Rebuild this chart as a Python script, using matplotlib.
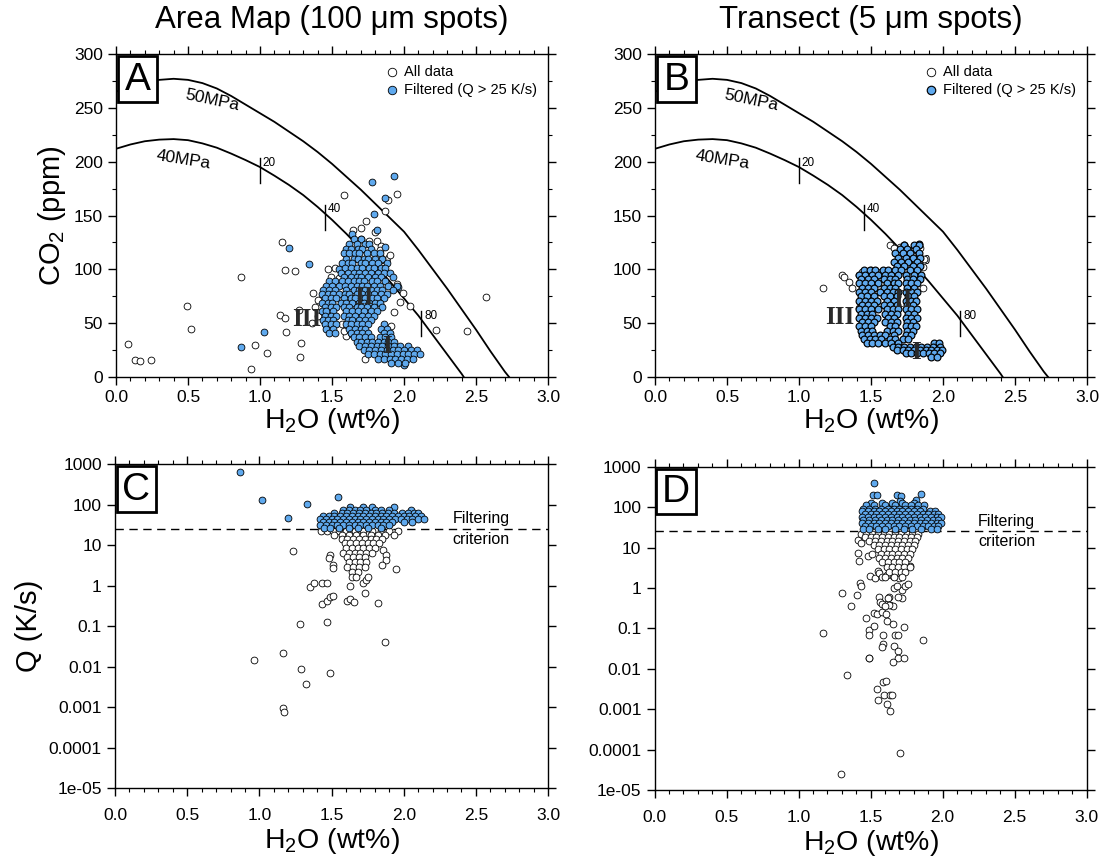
import matplotlib
matplotlib.use('Agg')
import matplotlib.pyplot as plt
from matplotlib.ticker import MultipleLocator, FormatStrFormatter, FixedLocator, NullLocator
from matplotlib.patches import Rectangle

plt.rcParams['font.family'] = ['Liberation Sans', 'DejaVu Sans']
plt.rcParams['mathtext.fontset'] = 'custom'
plt.rcParams['mathtext.rm'] = 'Liberation Sans'
plt.rcParams['mathtext.it'] = 'Liberation Sans:italic'

BLUE = '#5FA9EE'

# ---- saturation curves ----
CURVE_50_X = [0, 0.1, 0.2, 0.3, 0.4, 0.5, 0.6, 0.7, 0.8, 0.9, 1.0, 1.1, 1.2, 1.3, 1.4, 1.5,
              1.6, 1.7, 1.8, 1.9, 2.0, 2.1, 2.2, 2.3, 2.4, 2.5, 2.6, 2.7, 2.73]
CURVE_50_Y = [265, 270, 274, 276, 277, 276, 273, 268, 261, 253, 245, 237, 228, 219, 209, 198,
              186, 174, 161, 148, 135, 118, 100, 82, 63, 44, 24, 5, 0]
CURVE_40_X = [0, 0.1, 0.2, 0.3, 0.4, 0.5, 0.6, 0.7, 0.8, 0.9, 1.0, 1.1, 1.2, 1.3, 1.4, 1.5,
              1.6, 1.7, 1.8, 1.9, 2.0, 2.1, 2.2, 2.3, 2.4, 2.415]
CURVE_40_Y = [212, 216, 219, 220.5, 221, 220, 217, 213, 207.5, 201.5, 195, 187, 178.5, 169,
              158, 146, 133, 119, 104, 89, 73, 57, 39, 21, 3, 0]

DEGAS_TICK_X = [1.0, 1.45, 1.80, 2.12]
DEGAS_TICK_TOP = [203, 160, 112, 61]
DEGAS_TICK_BOT = [180, 137, 89, 38]
DEGAS_TICK_LABELS = ['20', '40', '60', '80']

Q_TICKS = [1e-5, 1e-4, 1e-3, 1e-2, 1e-1, 1, 10, 100, 1000]
Q_TICK_LABELS = ['1e-05', '0.0001', '0.001', '0.01', '0.1', '1', '10', '100', '1000']
Q_CUTOFF = 25

# ---- panel A: area map, H2O vs CO2 ----
A_WHITE_X = [0.08, 0.13, 0.165, 0.24, 0.49, 0.52, 0.87, 0.94, 0.965, 1.045, 1.155, 1.17, 1.24,
             1.14, 1.175, 1.18, 1.27, 1.285, 1.28, 1.365, 1.47, 1.52, 1.58, 1.735, 1.70, 1.645,
             1.81, 1.80, 1.87, 1.95, 1.89, 2.04, 2.225, 2.435, 2.57, 1.73,
             1.55, 1.40, 1.38, 1.45, 1.57, 1.60, 1.93, 1.91, 1.99, 1.59, 1.49, 1.90, 1.84, 1.86,
             1.70, 1.76, 1.83, 1.95, 1.97, 1.64, 1.58, 1.40, 1.36, 2.05]
A_WHITE_Y = [31, 16, 15, 15.5, 66, 45, 93, 7.5, 30, 22, 125, 99, 98.5,
             58, 55, 42, 62, 32, 19, 78, 100, 101, 169, 145, 138, 137,
             126, 135, 154, 170, 164, 66, 44, 43, 74, 16.5,
             92, 72, 65, 50, 49, 38, 60, 47, 78, 96, 93, 113, 122, 100,
             128, 126, 118, 86, 70, 40, 43, 57, 50, 22]
A_BLUE_X = [0.87, 1.03, 1.20, 1.34, 1.55, 1.78, 1.93, 1.87, 1.79, 1.81, 1.64, 1.87, 1.96, 2.0]
A_BLUE_Y = [28, 42, 120, 105, 100, 181, 187, 166, 151, 137, 133, 121, 84, 11]
A_BLUE_ROWS = [
    (128, [1.65, 1.70]),
    (124, [1.62, 1.67, 1.73, 1.76]),
    (119, [1.60, 1.63, 1.68, 1.71, 1.77]),
    (115, [1.58, 1.62, 1.66, 1.69, 1.74, 1.79, 1.83]),
    (110, [1.60, 1.65, 1.68, 1.72, 1.75, 1.80, 1.85]),
    (106, [1.57, 1.61, 1.64, 1.70, 1.73, 1.78, 1.82, 1.88]),
    (101, [1.59, 1.63, 1.67, 1.71, 1.76, 1.79, 1.84, 1.87]),
    (97, [1.56, 1.61, 1.65, 1.69, 1.73, 1.77, 1.82, 1.86, 1.90]),
    (93, [1.58, 1.63, 1.67, 1.70, 1.75, 1.80, 1.84, 1.92]),
    (89, [1.48, 1.52, 1.57, 1.61, 1.65, 1.69, 1.72, 1.78, 1.81, 1.87]),
    (85, [1.46, 1.50, 1.55, 1.59, 1.63, 1.67, 1.71, 1.74, 1.79, 1.83, 1.89, 1.95]),
    (81, [1.44, 1.48, 1.52, 1.60, 1.65, 1.69, 1.73, 1.77, 1.81, 1.85, 1.92]),
    (77, [1.43, 1.47, 1.51, 1.55, 1.59, 1.62, 1.67, 1.71, 1.75, 1.79, 1.84, 1.88]),
    (73, [1.45, 1.49, 1.53, 1.58, 1.63, 1.66, 1.70, 1.73, 1.78, 1.81, 1.86]),
    (69, [1.43, 1.47, 1.50, 1.56, 1.60, 1.64, 1.69, 1.72, 1.76, 1.80, 1.83]),
    (65, [1.45, 1.49, 1.53, 1.58, 1.62, 1.67, 1.70, 1.74, 1.79, 1.85]),
    (61, [1.43, 1.46, 1.51, 1.60, 1.64, 1.68, 1.72, 1.77, 1.81]),
    (57, [1.45, 1.49, 1.53, 1.58, 1.62, 1.66, 1.71, 1.75, 1.79]),
    (53, [1.44, 1.47, 1.51, 1.61, 1.64, 1.69, 1.73, 1.77]),
    (49, [1.45, 1.49, 1.53, 1.60, 1.63, 1.67, 1.71, 1.75, 1.86]),
    (45, [1.46, 1.51, 1.62, 1.66, 1.70, 1.73, 1.84, 1.88]),
    (41, [1.48, 1.52, 1.63, 1.67, 1.71, 1.75, 1.86, 1.90]),
    (37, [1.65, 1.69, 1.73, 1.77, 1.83, 1.87, 1.91]),
    (33, [1.67, 1.70, 1.74, 1.78, 1.82, 1.86, 1.89, 1.93]),
    (29, [1.69, 1.73, 1.77, 1.81, 1.85, 1.89, 1.93, 1.97, 2.03]),
    (25, [1.72, 1.76, 1.80, 1.84, 1.88, 1.92, 1.96, 2.00, 2.05, 2.09]),
    (21, [1.75, 1.79, 1.83, 1.87, 1.91, 1.95, 1.99, 2.03, 2.07, 2.11]),
    (17, [1.82, 1.86, 1.90, 1.94, 1.98, 2.02, 2.06]),
    (13, [1.91, 1.96, 2.01]),
]

# ---- panel B: transect, H2O vs CO2 ----
B_WHITE_X = [1.17, 1.30, 1.31, 1.35, 1.37, 1.415, 1.44, 1.635, 1.70, 1.795, 1.86, 1.86, 1.42,
             1.76, 1.79, 1.83, 1.87, 1.72, 1.47, 1.50, 1.66, 1.84, 1.80, 1.57, 1.53]
B_WHITE_Y = [83, 95, 93, 88, 83, 95, 97.5, 123, 121, 118, 83, 102, 64,
             118, 112, 106, 110, 104, 96, 99, 120, 120, 87, 98, 92]
B_BLUE_X = [1.73, 1.83]
B_BLUE_Y = [123, 124]
B_BLUE_ROWS = [
    (123, [1.73, 1.80, 1.83]),
    (119, [1.70, 1.75, 1.81]),
    (115, [1.67, 1.72, 1.77, 1.83]),
    (111, [1.69, 1.74, 1.79, 1.84]),
    (107, [1.66, 1.71, 1.76, 1.82]),
    (103, [1.68, 1.73, 1.79, 1.84]),
    (99, [1.45, 1.49, 1.53, 1.58, 1.62, 1.67, 1.71, 1.77, 1.82]),
    (95, [1.42, 1.46, 1.51, 1.55, 1.60, 1.64, 1.69, 1.74, 1.80, 1.85]),
    (91, [1.43, 1.48, 1.52, 1.59, 1.63, 1.67, 1.75, 1.79, 1.84]),
    (87, [1.42, 1.46, 1.50, 1.55, 1.61, 1.66, 1.69, 1.74, 1.78, 1.82]),
    (83, [1.44, 1.48, 1.52, 1.59, 1.63, 1.67, 1.75, 1.80]),
    (79, [1.42, 1.46, 1.50, 1.56, 1.61, 1.65, 1.69, 1.74, 1.78, 1.82]),
    (75, [1.43, 1.47, 1.52, 1.59, 1.63, 1.68, 1.76, 1.80]),
    (71, [1.42, 1.46, 1.50, 1.54, 1.61, 1.66, 1.74, 1.78, 1.81]),
    (67, [1.44, 1.48, 1.52, 1.59, 1.63, 1.68, 1.75, 1.79]),
    (63, [1.42, 1.46, 1.50, 1.55, 1.61, 1.65, 1.69, 1.74, 1.78, 1.82]),
    (59, [1.43, 1.47, 1.51, 1.60, 1.64, 1.68, 1.76, 1.80]),
    (55, [1.42, 1.46, 1.50, 1.54, 1.62, 1.66, 1.74, 1.78, 1.82]),
    (51, [1.44, 1.48, 1.52, 1.60, 1.64, 1.68, 1.75, 1.79]),
    (47, [1.42, 1.46, 1.50, 1.63, 1.67, 1.74, 1.78, 1.81]),
    (43, [1.43, 1.47, 1.51, 1.61, 1.65, 1.69, 1.75, 1.79]),
    (39, [1.44, 1.48, 1.52, 1.56, 1.60, 1.66, 1.74, 1.78]),
    (35, [1.45, 1.49, 1.53, 1.57, 1.63, 1.67, 1.72, 1.76]),
    (32, [1.47, 1.51, 1.55, 1.60, 1.64, 1.69, 1.94, 1.97]),
    (28, [1.65, 1.69, 1.73, 1.77, 1.81, 1.85, 1.89, 1.93, 1.98]),
    (25, [1.68, 1.72, 1.76, 1.80, 1.84, 1.88, 1.92, 1.96, 1.99]),
    (22, [1.74, 1.78, 1.82, 1.86, 1.90, 1.94, 1.98]),
    (19, [1.92, 1.96]),
]

# ---- panel C: area map, H2O vs Q ----
C_WHITE_X = [1.234, 1.95, 1.49, 1.48, 1.51, 1.51, 1.35, 1.378, 1.435, 1.47, 1.433, 1.47, 1.49,
             1.51, 1.61, 1.628, 1.655, 1.628, 1.72, 1.74, 1.75, 1.73, 1.82, 1.28, 1.466, 1.873,
             1.164, 0.96, 1.285, 1.488, 1.325, 1.164, 1.17, 1.86, 1.875, 1.88, 1.85]
C_WHITE_Q = [7.1, 2.5, 5.6, 4.7, 3.3, 2.7, 0.93, 1.17, 1.17, 1.17, 0.35, 0.42, 0.51,
             0.55, 0.42, 0.47, 0.40, 1.0, 1.13, 1.4, 1.65, 0.66, 0.36, 0.11, 0.125, 0.04,
             0.022, 0.0144, 0.0085, 0.0068, 0.0038, 0.00095, 0.00076, 7.5, 5.7, 4.3, 3.2]
C_WHITE_ROWS = [
    (22, [1.43, 1.47, 1.51, 1.55, 1.60, 1.66, 1.72, 1.78, 1.84, 1.90, 1.96]),
    (18, [1.52, 1.57, 1.62, 1.67, 1.72, 1.77, 1.82, 1.87, 1.93]),
    (14, [1.57, 1.61, 1.65, 1.69, 1.73, 1.77, 1.81, 1.85]),
    (11, [1.59, 1.63, 1.67, 1.71, 1.75, 1.79, 1.83]),
    (8.5, [1.60, 1.64, 1.68, 1.72, 1.76, 1.80]),
    (6.5, [1.58, 1.62, 1.66, 1.70, 1.74, 1.78]),
    (5, [1.61, 1.65, 1.69, 1.73]),
    (3.8, [1.62, 1.66, 1.70, 1.74]),
    (2.9, [1.61, 1.65, 1.69, 1.73]),
    (2.2, [1.64, 1.68]),
    (1.6, [1.64, 1.67]),
]
C_BLUE_X = [0.868, 1.02, 1.33, 1.544, 1.195]
C_BLUE_Q = [622, 127, 105, 153, 47]
C_BLUE_ROWS = [
    (85, [1.63, 1.72, 1.78, 1.93]),
    (72, [1.58, 1.62, 1.66, 1.70, 1.74, 1.80, 1.84, 1.90, 2.05]),
    (62, [1.52, 1.57, 1.61, 1.65, 1.69, 1.73, 1.77, 1.81, 1.85, 1.89, 1.93, 1.99, 2.03, 2.07, 2.10]),
    (53, [1.44, 1.48, 1.52, 1.56, 1.60, 1.64, 1.68, 1.72, 1.76, 1.80, 1.84, 1.88, 1.92, 1.96,
          2.00, 2.04, 2.08, 2.12]),
    (45, [1.42, 1.46, 1.50, 1.54, 1.58, 1.62, 1.66, 1.70, 1.74, 1.78, 1.82, 1.86, 1.90, 1.94,
          1.98, 2.02, 2.06, 2.10, 2.14]),
    (38, [1.44, 1.48, 1.52, 1.56, 1.60, 1.64, 1.68, 1.72, 1.76, 1.80, 1.84, 1.88, 1.92, 2.00, 2.06]),
    (32, [1.42, 1.46, 1.50, 1.54, 1.58, 1.62, 1.66, 1.70, 1.74, 1.78, 1.82, 1.86, 1.90]),
    (27, [1.45, 1.49, 1.55, 1.62, 1.68, 1.75, 1.84]),
]

# ---- panel D: transect, H2O vs Q ----
D_WHITE_X = [1.415, 1.43, 1.415, 1.422, 1.48, 1.508, 1.497, 1.531, 1.427, 1.433, 1.30, 1.408,
             1.364, 1.172, 1.47, 1.485, 1.487, 1.52, 1.52, 1.547, 1.577, 1.607, 1.635, 1.61,
             1.61, 1.589, 1.589, 1.577, 1.654, 1.666, 1.687, 1.66, 1.69, 1.687, 1.733, 1.652,
             1.485, 1.49, 1.728, 1.86, 1.336, 1.589, 1.605, 1.547, 1.595, 1.635, 1.647, 1.554,
             1.615, 1.635, 1.707, 1.292, 1.716, 1.716, 1.74, 1.76, 1.775, 1.66, 1.68, 1.63,
             1.62, 1.69, 1.655, 1.625, 1.55, 1.56, 1.58, 1.61, 1.655, 1.70, 1.675, 1.555, 1.565,
             1.58, 1.60]
D_WHITE_Q = [15.4, 13, 7.2, 4.6, 6.2, 6.8, 1.97, 1.8, 1.3, 1.12, 0.73, 0.67,
             0.356, 0.078, 0.18, 0.089, 0.068, 0.115, 0.243, 0.224, 0.25, 0.23, 0.38, 0.39,
             0.15, 0.068, 0.04, 0.034, 0.125, 0.068, 0.068, 0.037, 0.028, 0.018, 0.018, 0.0145,
             0.018, 0.018, 0.105, 0.051, 0.007, 0.0048, 0.005, 0.0032, 0.0023, 0.0023, 0.0023,
             0.0017, 0.00135, 0.00089, 8.3e-5, 2.5e-5, 0.89, 0.57, 1.1, 1.25, 3.5, 1.0, 1.1, 0.6,
             0.58, 0.6, 0.36, 0.37, 2.6, 2.4, 1.9, 2.1, 2.0, 1.8, 2.3, 0.6, 0.45,
             0.4, 0.36]
D_WHITE_ROWS = [
    (22, [1.43, 1.47, 1.51, 1.55, 1.59, 1.63, 1.67, 1.71, 1.75, 1.79, 1.83]),
    (18, [1.46, 1.50, 1.54, 1.58, 1.62, 1.66, 1.70, 1.74, 1.78, 1.82]),
    (14.5, [1.49, 1.53, 1.57, 1.61, 1.65, 1.69, 1.73, 1.77, 1.81]),
    (11.5, [1.52, 1.56, 1.60, 1.64, 1.68, 1.72, 1.76, 1.80]),
    (9, [1.55, 1.59, 1.63, 1.67, 1.71, 1.75, 1.79]),
    (7, [1.57, 1.61, 1.65, 1.69, 1.73, 1.77]),
    (5.5, [1.56, 1.60, 1.64, 1.68, 1.72, 1.76]),
    (4.3, [1.58, 1.62, 1.66, 1.70, 1.74]),
    (3.3, [1.61, 1.65, 1.69, 1.73, 1.77]),
    (2.5, [1.63, 1.67, 1.71, 1.74]),
    (1.9, [1.60, 1.66, 1.72]),
]
D_BLUE_X = [1.526, 1.515, 1.542, 1.686, 1.712, 1.705, 1.849, 1.816, 1.61]
D_BLUE_Q = [403, 200, 200, 204, 186, 138, 206, 150, 97]
D_BLUE_ROWS = [
    (130, [1.50, 1.58, 1.65, 1.72, 1.80]),
    (110, [1.47, 1.52, 1.60, 1.67, 1.74, 1.78, 1.83, 1.87]),
    (92, [1.45, 1.49, 1.53, 1.57, 1.62, 1.66, 1.70, 1.74, 1.78, 1.82, 1.86]),
    (78, [1.44, 1.48, 1.52, 1.56, 1.60, 1.64, 1.68, 1.72, 1.76, 1.80, 1.84, 1.91, 1.95]),
    (66, [1.46, 1.50, 1.54, 1.58, 1.62, 1.66, 1.70, 1.74, 1.78, 1.82, 1.86, 1.90, 1.94, 1.97]),
    (56, [1.44, 1.48, 1.52, 1.56, 1.60, 1.64, 1.68, 1.72, 1.76, 1.80, 1.84, 1.88, 1.92, 1.96, 1.99]),
    (47, [1.45, 1.49, 1.53, 1.57, 1.61, 1.65, 1.69, 1.73, 1.77, 1.81, 1.85, 1.89, 1.93, 1.97]),
    (40, [1.44, 1.48, 1.52, 1.56, 1.60, 1.64, 1.68, 1.72, 1.76, 1.80, 1.84, 1.88, 1.92, 1.96, 1.99]),
    (34, [1.46, 1.50, 1.54, 1.58, 1.62, 1.66, 1.70, 1.74, 1.78, 1.82, 1.86, 1.90, 1.94, 1.97]),
    (29, [1.45, 1.49, 1.55, 1.60, 1.67, 1.73, 1.79, 1.85, 1.92, 1.96]),
]


def rows_to_xy(rows, xs0, ys0):
    xs, ys = list(xs0), list(ys0)
    for y, row in rows:
        xs.extend(row)
        ys.extend([y] * len(row))
    return xs, ys


def style_axis(ax, tickpad, labelpad):
    ax.set_xlim(0, 3.0)
    ax.xaxis.set_major_locator(MultipleLocator(0.5))
    ax.xaxis.set_minor_locator(MultipleLocator(0.1))
    ax.xaxis.set_major_formatter(FormatStrFormatter('%.1f'))
    ax.tick_params(which='both', direction='out', top=True, right=True, labelsize=12.5)
    ax.tick_params(which='major', length=6, width=1)
    ax.tick_params(which='minor', length=3, width=0.8)
    ax.tick_params(axis='x', pad=tickpad)
    for sp in ax.spines.values():
        sp.set_linewidth(1)
    ax.set_xlabel('H$_2$O (wt%)', fontsize=20.5, labelpad=labelpad)


def letter_box(ax, letter):
    ax.add_patch(Rectangle((0.004, 0.853), 0.091, 0.14, transform=ax.transAxes,
                           facecolor='white', edgecolor='k', lw=2, zorder=6))
    ax.text(0.0495, 0.921, letter, transform=ax.transAxes, fontsize=28,
            ha='center', va='center', zorder=7)


def scatter_pair(ax, wx, wy, bx, by, edge_lw=0.6):
    ax.scatter(wx, wy, s=24, facecolor='white', edgecolor='k', linewidths=0.6,
               zorder=3, label='All data')
    ax.scatter(bx, by, s=24, facecolor=BLUE, edgecolor='k', linewidths=edge_lw,
               zorder=4, label='Filtered (Q > 25 K/s)')


def co2_panel(ax, letter, wx, wy, bx, by, numerals, edge_lw):
    ax.plot(CURVE_50_X, CURVE_50_Y, color='k', lw=1.3, zorder=2)
    ax.plot(CURVE_40_X, CURVE_40_Y, color='k', lw=1.3, zorder=2)
    for x, yt, yb, lab in zip(DEGAS_TICK_X, DEGAS_TICK_TOP, DEGAS_TICK_BOT, DEGAS_TICK_LABELS):
        ax.plot([x, x], [yb, yt], color='k', lw=1, zorder=2)
        ax.text(x + 0.02, yt - 4, lab, fontsize=8.5, ha='left', va='center', zorder=2)
    ax.text(0.67, 257, '50MPa', fontsize=12.5, rotation=-12, ha='center', va='center')
    ax.text(0.47, 202, '40MPa', fontsize=12.5, rotation=-9, ha='center', va='center')
    scatter_pair(ax, wx, wy, bx, by, edge_lw)
    for txt, x, y in numerals:
        ax.text(x, y, txt, family='Liberation Serif', fontweight='bold', fontsize=18,
                color='#2a2a2a', ha='center', va='center', zorder=5)
    ax.set_ylim(0, 300)
    ax.yaxis.set_major_locator(MultipleLocator(50))
    ax.yaxis.set_minor_locator(MultipleLocator(25))
    style_axis(ax, 3.5, 0.5)
    ax.legend(loc='upper right', frameon=False, fontsize=10.5, handletextpad=0.2,
              borderaxespad=0.35, labelspacing=0.25, markerscale=1.25, handlelength=1.2)
    letter_box(ax, letter)


def q_panel(ax, letter, wx, wy, bx, by, text_x):
    ax.axhline(Q_CUTOFF, color='k', lw=1, ls=(0, (6, 4)), zorder=2)
    ax.text(text_x, Q_CUTOFF, 'Filtering\ncriterion', fontsize=11.5, ha='left', va='center',
            linespacing=1.45, zorder=2)
    scatter_pair(ax, wx, wy, bx, by)
    ax.set_yscale('log')
    ax.set_ylim(1e-5, 1000)
    ax.yaxis.set_major_locator(FixedLocator(Q_TICKS))
    ax.yaxis.set_minor_locator(NullLocator())
    ax.set_yticklabels(Q_TICK_LABELS)
    style_axis(ax, 8.5, 2)
    letter_box(ax, letter)


fig = plt.figure(figsize=(11.04, 8.63), dpi=100)
axA = fig.add_axes([0.1051, 0.5631, 0.3913, 0.3743])
axB = fig.add_axes([0.5933, 0.5631, 0.3913, 0.3743])
axC = fig.add_axes([0.1042, 0.0869, 0.3922, 0.3754])
axD = fig.add_axes([0.5930, 0.0846, 0.3913, 0.3746])

ax_, ay_ = rows_to_xy(A_BLUE_ROWS, A_BLUE_X, A_BLUE_Y)
co2_panel(axA, 'A', A_WHITE_X, A_WHITE_Y, ax_, ay_,
          [('III', 1.325, 53), ('II', 1.72, 74), ('I', 1.88, 28)], 0.6)
bx_, by_ = rows_to_xy(B_BLUE_ROWS, B_BLUE_X, B_BLUE_Y)
co2_panel(axB, 'B', B_WHITE_X, B_WHITE_Y, bx_, by_,
          [('III', 1.285, 55), ('II', 1.72, 71), ('I', 1.81, 23)], 0.85)
axA.set_ylabel('CO$_2$ (ppm)', fontsize=21)

cwx, cwy = rows_to_xy(C_WHITE_ROWS, C_WHITE_X, C_WHITE_Q)
cbx, cby = rows_to_xy(C_BLUE_ROWS, C_BLUE_X, C_BLUE_Q)
q_panel(axC, 'C', cwx, cwy, cbx, cby, 2.34)
dwx, dwy = rows_to_xy(D_WHITE_ROWS, D_WHITE_X, D_WHITE_Q)
dbx, dby = rows_to_xy(D_BLUE_ROWS, D_BLUE_X, D_BLUE_Q)
q_panel(axD, 'D', dwx, dwy, dbx, dby, 2.245)
axC.set_ylabel('Q (K/s)', fontsize=21)

fig.text(0.3007, 0.977, 'Area Map (100 \u03bcm spots)', fontsize=22.5, ha='center', va='center')
fig.text(0.7885, 0.977, 'Transect (5 \u03bcm spots)', fontsize=22.5, ha='center', va='center')

fig.savefig('out.png', dpi=100)
